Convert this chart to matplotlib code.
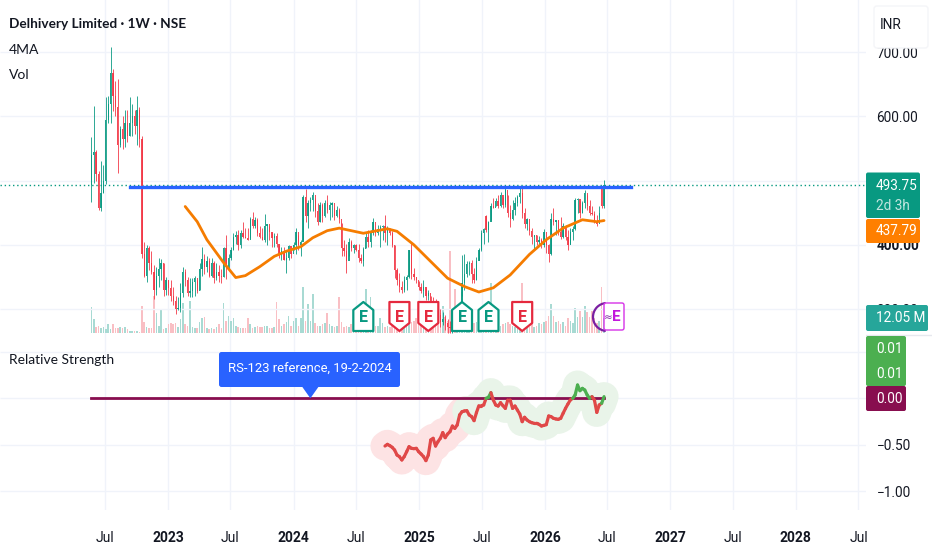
import numpy as np
import pandas as pd
import matplotlib
matplotlib.use('Agg')
import matplotlib.pyplot as plt
import matplotlib.dates as mdates
from matplotlib.patches import FancyBboxPatch, Polygon, Arc
from matplotlib.transforms import IdentityTransform

# Weekly candles
closes = [540,545,510,458,480,500,595,620,668,632,
          615,555,580,565,590,570,590,600,585,610,
          565,385,352,395,372,358,330,352,362,372,
          330,345,332,320,312,300,302,325,358,345,
          325,328,342,348,328,362,378,365,375,352,
          372,348,358,352,350,395,366,380,392,412,
          415,400,418,412,410,408,440,430,438,418,
          412,408,430,432,420,410,414,402,384,390,
          376,380,398,385,400,420,
          400,405,475,445,465,470,478,452,435,462,
          445,465,455,462,465,445,455,440,395,390,
          375,405,395,400,392,380,375,393,412,405,
          418,435,418,425,428,430,418,425,418,400,
          360,345,335,330,345,350,392,355,350,345,
          335,328,335,320,325,312,
          308,300,290,280,285,278,272,270,280,275,285,290,
          340,355,370,372,355,345,375,392,418,425,
          423,435,460,457,468,460,478,462,485,450,
          440,455,465,475,480,450,432,440,422,412,
          415,405,408,400,420,400,385,440,435,438,
          420,412,430,412,400,420,425,470,472,450,
          465,480,460,450,448,435,432,450,460,493.75]
highs = [568,617,547,515,530,525,630,632,708,674,
         655,658,585,600,610,610,630,620,610,632,
         615,570,405,400,398,390,368,365,380,378,
         372,350,345,345,335,320,318,340,365,362,
         350,348,348,352,345,372,396,385,382,380,
         380,375,372,368,362,397,416,385,397,418,
         421,423,423,436,426,426,444,451,444,441,
         429,426,448,433,429,418,418,418,400,397,
         397,390,400,390,405,426,
         415,408,478,487,470,475,483,473,465,467,
         465,470,478,467,467,457,460,457,434,408,
         402,410,408,402,402,402,385,397,418,423,
         423,441,426,431,431,431,447,429,426,421,
         400,364,356,343,351,353,392,403,364,350,
         343,341,345,332,330,320,
         318,315,305,300,295,290,285,282,288,290,300,310,
         384,386,375,375,377,364,381,395,423,426,
         447,437,465,473,473,478,483,475,490,478,
         462,470,475,478,488,490,457,442,426,426,
         416,416,413,410,424,408,402,449,457,439,
         439,444,434,431,423,426,429,473,473,468,
         468,486,478,470,460,452,447,460,490,501]
lows = [467,497,500,455,452,480,495,590,590,608,
        600,512,552,550,552,560,570,570,572,555,
        552,380,350,342,360,355,316,322,335,345,
        320,322,322,313,306,292,298,296,318,336,
        320,318,318,320,325,330,352,355,358,350,
        350,340,345,342,340,350,346,362,376,392,
        402,392,395,410,410,407,410,426,426,413,
        410,407,405,400,408,397,397,397,380,376,
        376,356,377,379,392,385,
        392,382,408,436,426,452,452,444,431,436,
        436,444,449,439,444,439,444,434,382,382,
        356,382,390,387,390,374,371,367,395,397,
        397,415,413,415,397,408,405,400,415,397,
        348,338,327,325,327,330,348,346,345,340,
        330,325,318,314,314,308,
        300,295,283,272,275,268,262,262,262,265,270,275,
        320,330,350,353,340,340,345,377,390,402,
        420,405,439,457,460,458,459,458,459,444,
        428,439,447,460,465,442,426,423,415,402,
        393,400,402,395,397,387,374,384,431,415,
        415,409,410,408,392,402,408,423,449,441,
        449,457,454,447,447,434,429,444,458,458]
first_open = 493
open_gaps = {164: 445, 212: 488}

# Volume in millions
volumes = [21,11,5,6,4,5,3,7,3,7,4,4,5,4,5,3,2,2,2,1.5,1,22,
           9,5,4,4,30,16,6,19,3,4,7,8,7,8,5,11,24,7,6,26,5,4,4,9,12,13,4,3,4,3,5,7,4,24,10,14,10,12,6,
           5,4,4,4,12,7,4,5,6,5,5,6,6,4,4,5,25,11,6,7,9,14,6,10,12,6,12,37,
           10,23,10,31,8,6,6,7,8,16,7,6,5,6,29,9,5,6,5,7,4,5,6,6,5,35,10,29,8,6,6,12,8,5,6,5,6,8,9,7,6,
           7,6,8,9,10,12,9,11,12,14,10,12,13,9,11,16,22,13,10,
           66,14,35,12,15,33,12,10,9,12,8,9,10,12,9,15,12,40,9,7,8,6,7,8,9,7,6,5,6,7,40,7,6,5,7,5,6,8,7,9,
           10,14,23,14,9,10,7,9,6,12,10,8,20,13,18,13,22,17,13,18,12,8,10,37,12.05]

# Moving average, read at a few weeks
ma_weeks = [39,44,48,55,60,64,70,76,81,87,92,98,103,113,123,127,134,141,148,155,161,167,174,182,189,196,204,210,213]
ma_values = [459.7,436,408,372,349,352,366,382,390,397,411,422,426,418,425,421,400,374,348,335,326.5,333,353,385,408,426,439,436,437.79]

# Relative strength, one value a week up to the last candle
rs_values = [-.513,-.495,-.509,-.527,-.556,-.610,-.627,-.663,-.627,-.574,-.520,-.538,-.541,-.538,
             -.574,-.599,-.627,-.670,-.610,-.448,-.430,-.513,-.466,-.430,-.369,-.423,-.384,-.359,-.298,-.323,
             -.287,-.179,-.144,-.136,-.133,-.179,-.197,-.240,-.154,-.079,-.079,-.072,0.0,.011,.061,-.018,
             -.072,-.083,-.047,-.079,-.108,-.018,-.018,-.108,-.083,-.126,-.169,-.251,-.204,-.233,-.251,-.262,
             -.269,-.269,-.280,-.298,-.291,-.283,-.190,-.197,-.215,-.222,-.226,-.215,-.161,-.108,-.061,-.018,
             0.0,.036,.143,.082,.107,.089,.036,0.0,.018,-.018,-.151,-.072,-.054,.018]
rs_halo_split = 34

resistance = 490
last_price = 493.75
ref_date = '2024-02-19'
resistance_span = ['2022-09-12', '2026-09-07']
earnings_up = [154, 165, 113]
earnings_down = [128, 140, 179]
price_ticks = [300, 400, 600, 700]
price_grid = [300, 400, 500, 600, 700]
rs_ticks = [0.5, 0, -0.5, -1]
date_ticks = ['2022-07-01','2023-01-01','2023-07-01','2024-01-01','2024-07-01','2025-01-01','2025-07-01',
              '2026-01-01','2026-07-01','2027-01-01','2027-07-01','2028-01-01','2028-07-01']
date_labels = ['Jul','2023','Jul','2024','Jul','2025','Jul','2026','Jul','2027','Jul','2028','Jul']

GREEN = '#089981'
RED = '#f23645'
GRID = '#f0f3fa'
INK = '#131722'
W, H = 932, 550
PX = IdentityTransform()

dates = mdates.date2num(pd.date_range('2022-05-23', periods=len(closes), freq='7D'))
opens = np.array([first_open] + closes[:-1], dtype=float)
for k, v in open_gaps.items():
    opens[k] = v
closes = np.array(closes, dtype=float)
up = closes >= opens
colors = np.where(up, GREEN, RED)

plt.rcParams['font.family'] = ['Roboto', 'DejaVu Sans']
fig = plt.figure(figsize=(W / 100, H / 100), dpi=100, facecolor='white')


def rect(x0, y0, x1, y1):
    return [x0 / W, 1 - y1 / H, (x1 - x0) / W, (y1 - y0) / H]


def box(x0, y0, x1, y1, color, rounding=2, edge='none'):
    fig.add_artist(FancyBboxPatch((x0, H - y1), x1 - x0, y1 - y0, boxstyle=f'round,pad=0,rounding_size={rounding}',
                                  fc=color, ec=edge, lw=1, transform=PX, zorder=5))


def label(x, y, s, color='white', size=9.8, ha='left', weight='normal', family=None, alpha=1):
    fig.text(x, H - y, s, color=color, fontsize=size, ha=ha, va='center', weight=weight, family=family,
             alpha=alpha, transform=PX, zorder=6)


d0 = mdates.date2num(pd.Timestamp('2023-01-01'))
days_per_px = 365.25 / 125.6
xlim = (d0 - 168 * days_per_px, d0 + (866 - 168) * days_per_px)
tick_x = mdates.date2num(pd.to_datetime(date_ticks))

# Price pane with volume overlay behind it
ax_vol = fig.add_axes(rect(0, 0, 866, 335), zorder=1)
ax = fig.add_axes(rect(0, 0, 866, 335), zorder=2)
ax.patch.set_alpha(0)
ax_rs = fig.add_axes(rect(0, 335, 866, 510), zorder=1)

ax_vol.bar(dates, volumes, width=4.6, color=np.where(up, '#a8dad3', '#f9bfc4'), zorder=2)
ax_vol.set_ylim(-1.6, 267.5)
ax_vol.set_yticks([])
ax_vol.set_xticks(tick_x)
ax_vol.set_xticklabels([])
ax_vol.tick_params(length=0)
ax_vol.xaxis.grid(True, color=GRID, lw=1)
ax_vol.set_axisbelow(True)

ax.hlines(price_grid, xlim[0], xlim[1], color=GRID, lw=1, zorder=0)
ax.vlines(dates, lows, highs, color=colors, lw=0.7, alpha=0.85, zorder=3)
ax.bar(dates, np.abs(closes - opens), bottom=np.minimum(opens, closes), width=3.8, color=colors, alpha=0.9, zorder=3)
ax.plot(dates[ma_weeks], ma_values, color='#f57c00', lw=2.0, solid_capstyle='round', solid_joinstyle='round', zorder=4)
ax.plot(mdates.date2num(pd.to_datetime(resistance_span)), [resistance, resistance], color='#2962ff', lw=2.4, zorder=5)
ax.axhline(last_price, color=GREEN, lw=1, ls=(0, (1, 2)), zorder=2)
ax.set_ylim(259.5, 781.4)
ax.yaxis.tick_right()
ax.set_yticks(price_ticks)
ax.set_yticklabels([f'{v:.2f}' for v in price_ticks], color=INK, fontsize=9.8)
ax.get_yticklabels()[1].set_weight('bold')
ax.set_xticks([])
ax.tick_params(length=0, pad=7.5)

# Relative strength pane
ax_rs.hlines(rs_ticks, xlim[0], xlim[1], color=GRID, lw=1, zorder=0)
ax_rs.set_xticks(tick_x)
ax_rs.set_xticklabels(date_labels, color=INK, fontsize=10)
for t, s in zip(ax_rs.get_xticklabels(), date_labels):
    if s != 'Jul':
        t.set_weight('bold')
ax_rs.xaxis.grid(True, color=GRID, lw=1)
ax_rs.set_axisbelow(True)
rs_x = dates[-len(rs_values):]
ax_rs.plot(rs_x[:rs_halo_split + 1], rs_values[:rs_halo_split + 1], color='#fde3e4', lw=21, solid_capstyle='round', solid_joinstyle='round', zorder=1)
ax_rs.plot(rs_x[rs_halo_split:], rs_values[rs_halo_split:], color='#e9f4e9', lw=21, solid_capstyle='round', solid_joinstyle='round', zorder=1)
ax_rs.plot([dates[0], dates[-1]], [0, 0], color='#880e4f', lw=2.0, zorder=2)
for i in range(len(rs_values) - 1):
    c = '#4caf50' if min(rs_values[i], rs_values[i + 1]) >= 0 or rs_values[i + 1] > 0.01 else '#e04848'
    ax_rs.plot(rs_x[i:i + 2], rs_values[i:i + 2], color=c, lw=2.3, solid_capstyle='round', zorder=3)
ax_rs.set_ylim(-1.201, 0.681)
ax_rs.yaxis.tick_right()
ax_rs.set_yticks(rs_ticks)
ax_rs.set_yticklabels(['0.50', '0.00', '\u22120.50', '\u22121.00'], color=INK, fontsize=9.8)
ax_rs.tick_params(axis='y', length=0, pad=7.5)
ax_rs.tick_params(axis='x', length=0, pad=15)

for a in (ax_vol, ax, ax_rs):
    a.set_xlim(xlim)
    for s in a.spines.values():
        s.set_visible(False)

fig.add_artist(plt.Line2D([0, 1], [1 - 335 / H] * 2, color='#e6e8ee', lw=1, zorder=1))

# Legend texts
label(9, 24, 'Delhivery Limited \u00b7 1W \u00b7 NSE', INK, 9.8, weight='bold', family='Lato')
label(9, 50, '4MA', INK, 10, family='Lato')
label(9, 75, 'Vol', INK, 10, family='Lato')
label(9, 360, 'Relative Strength', INK, 10, family='Lato')

# Callout on the reference date
ref_px = ax_rs.transData.transform((mdates.date2num(pd.Timestamp(ref_date)), 0))
box(219, 352, 400, 387, '#2962ff', 2.5)
fig.add_artist(Polygon([(ref_px[0] - 8, H - 387), (ref_px[0] + 8, H - 387), (ref_px[0], ref_px[1])], closed=True,
                       fc='#2962ff', ec='none', transform=PX, zorder=5))
label(309.5, 369.5, 'RS-123 reference, 19-2-2024', 'white', 9.4, ha='center')


# Earnings markers
def earnings_icon(week, color, pointing_up):
    cx = ax.transData.transform((dates[week], 0))[0]
    top, bottom = H - 302, H - 331
    if pointing_up:
        pts = [(cx - 10, bottom), (cx + 10, bottom), (cx + 10, top - 8), (cx, top), (cx - 10, top - 8)]
    else:
        pts = [(cx - 10, top), (cx + 10, top), (cx + 10, bottom + 8), (cx, bottom), (cx - 10, bottom + 8)]
    fig.add_artist(Polygon(pts, closed=True, fc='white', ec=color, lw=1.6, joinstyle='round', transform=PX, zorder=5))
    label(cx, 317, 'E', color, 11.5, ha='center', weight='bold')


for w in earnings_up:
    earnings_icon(w, GREEN, True)
for w in earnings_down:
    earnings_icon(w, '#e5293e', False)

fig.add_artist(Arc((607, H - 317), 28, 28, theta1=95, theta2=265, ec='#7b1fa2', lw=1.6, transform=PX, zorder=5))
box(604, 303, 624, 330, 'white', 2, '#d633e8')
label(604, 317, '\u2248', '#7b1fa2', 7.5, family='DejaVu Sans')
label(616.5, 317, 'E', '#c218dc', 11, ha='center', weight='bold')

# Right side labels
box(866, 172.5, 920, 218, GREEN)
label(876, 186, '493.75')
label(876, 206, '2d 3h', alpha=0.75)
box(866, 219, 920, 243, '#ff7f00')
label(876, 231, '437.79')
box(866, 305, 928, 331, '#26a69a')
label(876, 318.5, '12.05 M')
box(866, 336, 906, 386, '#4caf50')
label(876, 349, '0.01')
label(876, 374, '0.01')
box(866, 386, 906, 411, '#880e4f')
label(876, 399, '0.00')
box(874, 6, 928, 48, 'white', 3, '#f4f5f8')
label(880, 25, 'INR', INK)

fig.savefig('out.png', dpi=100)
